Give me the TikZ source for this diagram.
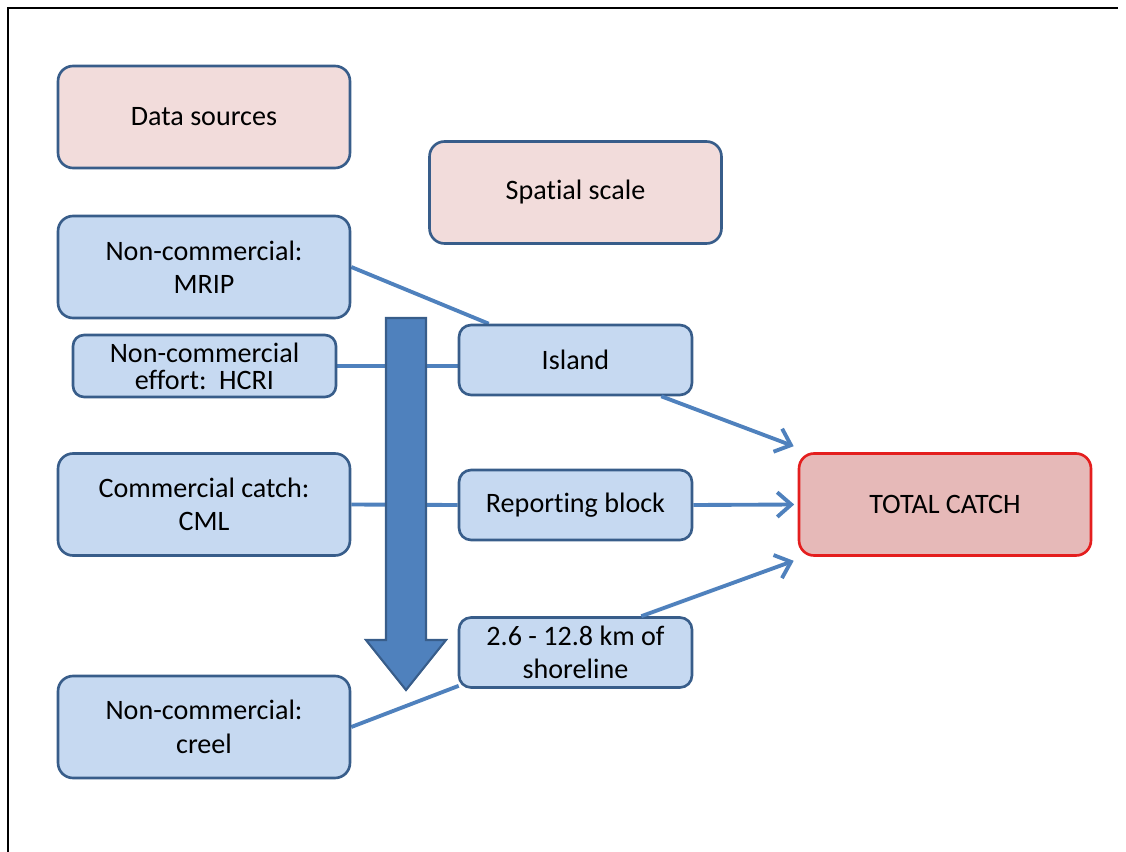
\documentclass[tikz,border=0pt]{standalone}
\usepackage{fontspec}
\setmainfont[Ligatures=NoCommon]{Carlito}
\usepackage{tikz}
\usetikzlibrary{arrows.meta, positioning, backgrounds}
\usepackage{xcolor}
\definecolor{boxblue}{HTML}{C6D9F1}
\definecolor{boxedge}{HTML}{385D8A}
\definecolor{linkblue}{HTML}{4F81BD}
\definecolor{boxpink}{HTML}{F2DCDB}
\definecolor{totalfill}{HTML}{E6B9B8}
\definecolor{totaledge}{HTML}{E41E1E}

\begin{document}
\begin{tikzpicture}[
x=0.02cm, y=-0.02cm,
font=\fontsize{16}{19}\selectfont,
box/.style={draw=boxedge,
fill=boxblue,
line width=1.5pt,
rounded corners=0.3cm,
minimum width=5.84cm,
minimum height=2.04cm,
align=center},
small/.style={box,
rounded corners=0.24cm,
minimum width=4.66cm,
minimum height=1.4cm},
head/.style={box, fill=boxpink},
link/.style={draw=linkblue, line width=2.2pt},
arrow/.style={link, -{Straight Barb[length=8pt, width=14pt, line width=2.2pt]}},
bigarrow/.style={draw=boxedge, fill=linkblue, line width=1.2pt}
]
\useasboundingbox (0,0) rectangle (1126,852);
\draw[line width=1.2pt] (8,852) -- (8,8) -- (1118,8);

\node[head] (datasrc) at (204,117) {Data sources};
\node[head] (spatial) at (575.5,192.5) {Spatial scale};

\node[box] (mrip) at (204,267) {Non-commercial:\\MRIP};
\node[box, minimum width=5.26cm, minimum height=1.24cm, rounded corners=0.22cm,
font=\fontsize{16}{15.5}\selectfont] (hcri) at (204.5,366) {Non-commercial\\effort:\ \ HCRI};
\node[box] (cml) at (204,504.5) {Commercial catch:\\CML};
\node[box] (creel) at (204,727) {Non-commercial:\\creel};

\node[small] (island) at (575.5,360) {Island};
\node[small] (block) at (575.5,505) {Reporting block};
\node[small] (shore) at (575.5,652.5) {2.6 - 12.8 km of\\shoreline};

\node[box, fill=totalfill, draw=totaledge] (total) at (945,504.5) {TOTAL CATCH};

\begin{scope}[on background layer]
\draw[link] (mrip.east) -- ([xshift=0.62cm]island.north west);
\draw[link] (hcri.east) -- (hcri.east -| island.west);
\draw[link] (cml.east) -- (block.west);
\draw[link] (creel.east) -- ([shift={(1,-3)}]shore.south west);
\end{scope}

% big downward arrow
\draw[bigarrow] (386,318) -- (426,318) -- (426,640) -- (446,640) -- (406,690)
-- (366,640) -- (386,640) -- cycle;

\draw[arrow] ([xshift=-0.64cm]island.south east) -- ([shift={(-4,-6)}]total.north west);
\draw[arrow] (block.east) -- ([xshift=-2pt]total.west);
\draw[arrow] ([xshift=-1.04cm]shore.north east) -- ([shift={(-4,4)}]total.south west);

\end{tikzpicture}
\end{document}
